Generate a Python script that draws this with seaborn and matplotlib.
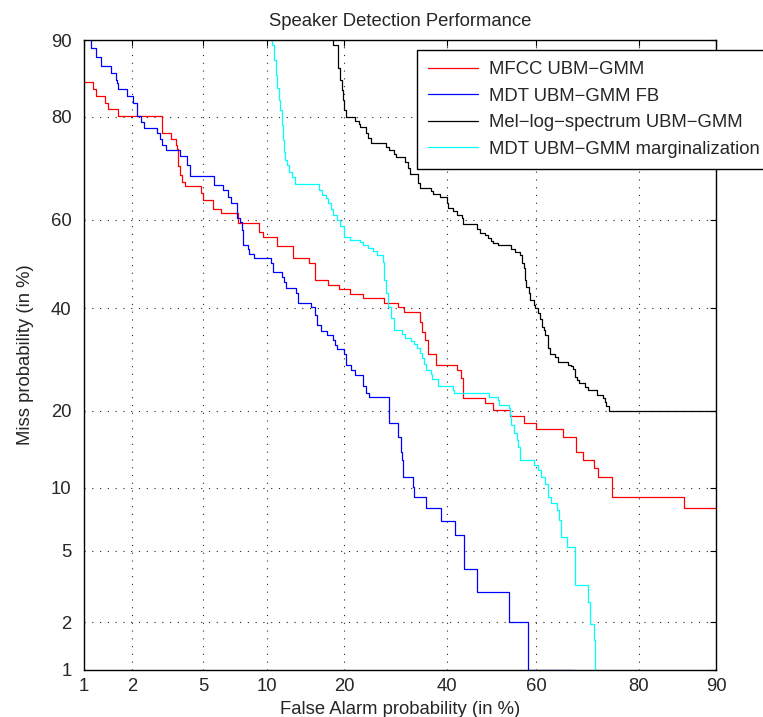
import numpy as np
import pandas as pd
import matplotlib
matplotlib.use("Agg")
import matplotlib.pyplot as plt
import seaborn as sns
from statistics import NormalDist

# ---------------- data (percent) ----------------
tick_values = [1, 2, 5, 10, 20, 40, 60, 80, 90]
tick_labels = ["1", "2", "5", "10", "20", "40", "60", "80", "90"]

labels = ["MFCC UBM\u2212GMM", "MDT UBM\u2212GMM FB",
          "Mel\u2212log\u2212spectrum UBM\u2212GMM", "MDT UBM\u2212GMM marginalization"]
colors = ["#ff0000", "#0000ff", "#000000", "#00ffff"]

mfcc_fa = [1.0, 1.15, 1.2, 1.37, 1.43, 1.65, 3.0, 3.37, 3.59, 3.64, 3.68, 3.78, 3.87, 4.01,
           4.88, 4.99, 5.6, 6.14, 7.42, 9.26, 9.63, 11.06, 12.88, 14.9, 15.7, 17.56, 19.24,
           21.0, 23.2, 26.9, 29.7, 30.95, 34.2, 34.6, 35.3, 35.9, 37.6, 42.3, 43.0, 43.6,
           48.6, 50.4, 54.1, 57.3, 60.1, 65.9, 68.6, 70.0, 72.0, 72.9, 75.5, 86.4, 90.0]
mfcc_miss = [85.1, 84.2, 83.2, 82.1, 81.2, 80.1, 77.3, 76.3, 75.2, 74.4, 71.2, 69.4, 68.0, 67.2,
             65.7, 64.2, 62.3, 61.4, 59.2, 57.2, 56.1, 54.0, 51.3, 50.2, 46.3, 45.1, 44.2,
             43.1, 42.2, 41.1, 40.2, 39.1, 36.9, 34.8, 33.1, 30.3, 28.1, 27.1, 25.6, 22.1,
             21.2, 20.1, 19.2, 18.1, 17.2, 16.1, 14.05, 13.05, 12.1, 11.1, 9.07, 8.09, 8.09]

fb_fa = [1.06, 1.11, 1.20, 1.29, 1.49, 1.61, 1.63, 1.65, 1.88, 2.04, 2.15, 2.28, 2.37, 2.81,
         2.92, 3.00, 3.17, 3.78, 4.12, 4.27, 5.67, 6.28, 6.64, 6.86, 7.33, 7.57, 7.73, 7.82,
         8.24, 8.33, 8.78, 10.44, 10.64, 11.60, 11.84, 12.07, 13.25, 13.51, 15.18, 15.72,
         15.99, 16.56, 17.44, 18.33, 18.62, 18.94, 20.05, 20.37, 21.19, 21.86, 23.2, 23.7,
         24.3, 28.0, 29.6, 30.2, 30.5, 30.7, 32.6, 33.0, 35.5, 38.7, 41.8, 43.8, 46.6, 53.9,
         58.2, 68.0]
fb_miss = [92.0, 89.2, 88.2, 87.1, 86.3, 85.4, 85.0, 84.2, 83.2, 82.1, 80.1, 79.2, 78.2, 77.3,
           76.3, 75.2, 74.3, 73.1, 71.4, 69.2, 67.4, 66.3, 64.9, 63.6, 60.3, 59.4, 57.7, 54.3,
           53.3, 52.2, 51.3, 50.2, 48.1, 47.0, 45.8, 44.4, 43.3, 41.1, 40.2, 38.4, 36.3, 35.0,
           34.2, 33.1, 32.1, 31.3, 30.3, 28.1, 27.1, 26.2, 24.2, 23.0, 22.3, 18.1, 16.1, 14.05,
           13.05, 11.1, 10.05, 9.07, 8.09, 7.03, 6.01, 4.02, 3.01, 2.01, 1.0, 1.0]

mel_fa = [17.9, 18.33, 19.1, 19.41, 19.7, 19.88, 20.05, 20.37, 21.86, 22.4, 22.7, 23.7, 24.1,
          24.6, 27.4, 28.0, 28.8, 29.2, 31.1, 31.6, 32.0, 33.8, 34.2, 36.4, 37.0, 38.5, 39.9,
          40.3, 41.2, 42.3, 43.4, 43.6, 46.8, 47.3, 48.6, 49.3, 49.8, 50.4, 51.4, 54.5, 55.4,
          56.4, 56.8, 57.3, 57.5, 57.9, 58.4, 58.8, 59.5, 59.9, 60.4, 60.8, 61.3, 61.7, 62.1,
          62.6, 62.7, 63.0, 64.1, 64.7, 66.8, 67.4, 68.0, 68.4, 68.8, 69.2, 70.4, 71.0, 72.6,
          73.7, 74.1, 74.4, 74.8, 90.0]
mel_miss = [92.0, 89.5, 86.9, 85.4, 84.0, 82.6, 81.1, 80.0, 79.3, 78.8, 78.3, 77.3, 76.4, 75.6,
            74.8, 74.3, 73.5, 72.95, 72.0, 70.8, 69.6, 67.8, 66.8, 66.2, 65.5, 64.9, 63.6, 62.5,
            61.9, 61.0, 60.3, 59.0, 57.9, 57.0, 56.6, 55.9, 55.2, 54.7, 54.3, 53.3, 52.7, 52.0,
            50.2, 49.0, 46.3, 44.7, 43.3, 41.8, 40.7, 40.0, 38.9, 37.6, 35.9, 35.2, 34.2, 32.7,
            31.5, 30.3, 29.7, 28.7, 28.1, 27.9, 27.3, 25.8, 25.3, 24.7, 24.0, 23.5, 22.6, 22.1,
            21.4, 20.8, 20.0, 20.0]

marg_fa = [10.1, 10.53, 10.75, 10.96, 11.06, 11.28, 11.39, 11.60, 11.72, 11.84, 11.96, 12.18,
           12.41, 12.77, 13.13, 16.28, 16.71, 17.28, 17.56, 18.01, 18.33, 18.94, 19.41, 20.05,
           21.0, 22.7, 23.2, 24.1, 25.0, 25.7, 26.7, 27.0, 27.4, 27.8, 28.4, 28.8, 30.5, 31.1,
           32.2, 33.0, 33.6, 34.2, 34.6, 35.1, 35.5, 36.4, 36.8, 37.9, 41.2, 41.6, 49.5, 51.4,
           51.8, 53.9, 54.1, 54.5, 55.0, 55.7, 55.9, 56.4, 59.5, 60.4, 61.2, 62.1, 62.6, 63.2,
           64.5, 65.1, 65.5, 66.6, 68.4, 71.0, 71.4, 72.0, 72.2]
marg_miss = [92.0, 89.5, 87.8, 86.0, 84.3, 82.6, 81.1, 78.7, 76.1, 73.9, 72.4, 71.4, 70.0, 69.0,
             67.6, 66.3, 65.3, 64.7, 63.6, 62.3, 61.0, 59.9, 58.6, 56.1, 55.4, 55.0, 54.3, 53.6,
             52.9, 52.0, 50.4, 46.3, 43.3, 40.2, 37.8, 35.2, 34.3, 33.5, 32.9, 32.3, 31.5, 30.4,
             29.5, 28.3, 27.1, 26.4, 25.5, 24.2, 23.5, 23.0, 22.3, 21.8, 20.9, 20.4, 19.3, 17.8,
             16.6, 15.6, 14.7, 13.05, 12.5, 11.9, 11.1, 10.4, 9.07, 8.5, 7.9, 7.1, 5.9, 5.24,
             3.29, 2.64, 1.96, 1.56, 1.0]

series = [(mfcc_fa, mfcc_miss), (fb_fa, fb_miss), (mel_fa, mel_miss), (marg_fa, marg_miss)]

# ---------------- normal-deviate (DET) scale ----------------
_nd = NormalDist()
_ppf = np.vectorize(_nd.inv_cdf, otypes=[float])
_cdf = np.vectorize(_nd.cdf, otypes=[float])


def probit_fwd(p):
    p = np.asarray(p, dtype=float)
    q = np.clip(p / 100.0, 1e-9, 1 - 1e-9)
    return _ppf(q)


def probit_inv(z):
    z = np.asarray(z, dtype=float)
    return _cdf(z) * 100.0


sns.set_style("white")
plt.rcParams["font.family"] = ["Liberation Sans", "DejaVu Sans"]
plt.rcParams["axes.unicode_minus"] = True

W, H = 763, 717
fig = plt.figure(figsize=(W / 100, H / 100), dpi=100)
ax = fig.add_axes([84 / W, 1 - 670 / H, (716 - 84) / W, (670 - 40) / H])
ax.set_xscale("function", functions=(probit_fwd, probit_inv))
ax.set_yscale("function", functions=(probit_fwd, probit_inv))

for (fa, miss), lab, col in zip(series, labels, colors):
    df = pd.DataFrame({"fa": fa, "miss": miss})
    sns.lineplot(data=df, x="fa", y="miss", ax=ax, color=col, label=lab,
                 estimator=None, sort=False, drawstyle="steps-post", linewidth=0.9,
                 legend=False)

ax.set_xlim(1, 90)
ax.set_ylim(1, 90)
ax.set_xticks(tick_values)
ax.set_xticklabels(tick_labels)
ax.set_yticks(tick_values)
ax.set_yticklabels(tick_labels)
ax.minorticks_off()

fs = 13.3
ax.tick_params(axis="both", which="major", direction="in", top=True, right=True,
               length=4, width=0.8, color="black", labelsize=fs)
ax.tick_params(axis="x", pad=6)
ax.tick_params(axis="y", pad=9)
ax.grid(True, which="major", color="0.15", linestyle=(0, (1, 6)), linewidth=0.8)
for sp in ax.spines.values():
    sp.set_color("black")
    sp.set_linewidth(1.0)
    sp.set_visible(True)

ax.set_title("Speaker Detection Performance", fontsize=fs, pad=10)
ax.set_xlabel("False Alarm probability (in %)", fontsize=fs, labelpad=4)
ax.set_ylabel("Miss probability (in %)", fontsize=fs, labelpad=12)

handles = ax.get_lines()[:4]
leg = ax.legend(handles, labels, loc="upper left",
                bbox_to_anchor=(417 / W, 1 - 50 / H), bbox_transform=fig.transFigure,
                borderaxespad=0, frameon=True, fancybox=False, framealpha=1,
                edgecolor="black", fontsize=fs, handlelength=2.7, handletextpad=0.6,
                labelspacing=0.52, borderpad=0.6)
leg.get_frame().set_linewidth(1.0)

fig.savefig("out.png", dpi=100)
